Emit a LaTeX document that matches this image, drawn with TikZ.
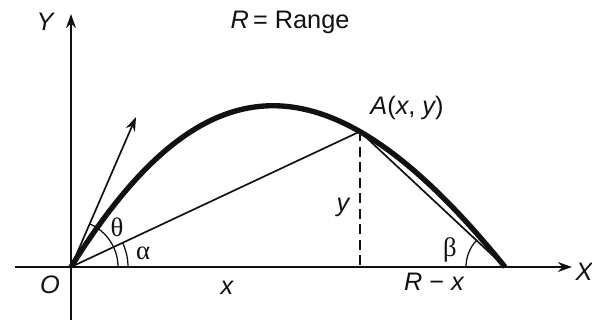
\documentclass[tikz,border=0pt]{standalone}
\usepackage{fontspec}
\setmainfont{Liberation Sans}
\newfontfamily\greekfont{Liberation Serif}
\usepackage{tikz}
\usetikzlibrary{arrows.meta}
\definecolor{ink}{HTML}{111111}
\tikzset{
  axis/.style={ink,line width=1.4pt,-{Stealth[length=10pt,width=7pt]}},
  thinline/.style={ink,line width=1.2pt},
  path/.style={ink,line width=3.8pt},
  lbl/.style={text=ink,inner sep=0pt,font=\fontsize{18}{20}\selectfont\itshape},
  glbl/.style={text=ink,inner sep=0pt,font=\fontsize{19}{20}\selectfont\greekfont}
}

\begin{document}
\begin{tikzpicture}[x=0.025cm,y=0.025cm]
  \useasboundingbox (0,0) rectangle (592,320);
  \coordinate (O) at (71,53);
  \coordinate (E) at (505,53);
  \coordinate (Xs) at (15,53);
  \coordinate (Xe) at (572,53);
  \coordinate (Ys) at (71,0);
  \coordinate (Ye) at (71,306);
  \coordinate (V) at (136,203);
  \draw[axis] (Xs) -- (Xe);
  \draw[axis] (Ys) -- (Ye);
  \draw[path] (O) .. controls (205,268) and (331,268) .. coordinate[pos=0.7] (A) (E);
  \coordinate (Af) at (A |- O);
  \draw[thinline,-{Stealth[length=10pt,width=7pt]}] (O) -- (V);
  \draw[thinline] (O) -- (A) -- (E);
  \draw[thinline,dash pattern=on 7pt off 4pt] (A) -- (Af);
  \draw[thinline,line width=0.9pt] ([shift={(0:47)}]O) arc[start angle=0,end angle=66,radius=47];
  \draw[thinline,line width=0.9pt] ([shift={(0:57)}]O) arc[start angle=0,end angle=25,radius=57];
  \draw[thinline,line width=0.9pt] ([shift={(137:39)}]E) arc[start angle=137,end angle=180,radius=39];
  \node[lbl] (ylab) at (45,298) {Y};
  \node[lbl] (xlab) at (584,48) {X};
  \node[lbl] (olab) at (50,35) {O};
  \node[lbl] (rng) at (290,298) {R\,\upshape = Range};
  \node[lbl] (alab) at (407,212) {A\upshape(\itshape x\upshape, \itshape y\upshape)};
  \node[lbl] (xdist) at (227,32) {x};
  \node[lbl] (ydist) at (343,113) {y};
  \node[lbl] (rmx) at (434,38) {R \upshape− \itshape x};
  \node[glbl] (th) at (117,93) {θ};
  \node[glbl] (al) at (143,67) {α};
  \node[glbl] (be) at (450,70) {β};
\end{tikzpicture}
\end{document}
